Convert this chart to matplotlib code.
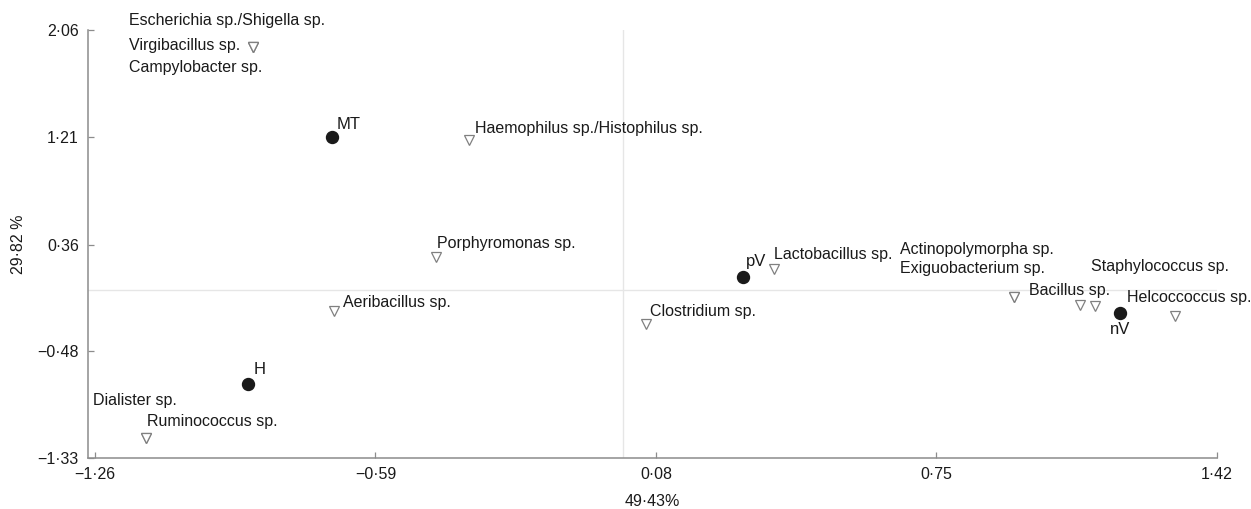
import matplotlib
matplotlib.use("Agg")
import matplotlib.pyplot as plt
from matplotlib.ticker import FixedLocator, FixedFormatter

plt.rcParams['font.family'] = ['Liberation Sans', 'DejaVu Sans']

# Sample scores (ordination axes 1 and 2)
sample_names = ["MT", "pV", "nV", "H"]
sample_x = [-0.695, 0.287, 1.188, -0.895]
sample_y = [1.21, 0.103, -0.183, -0.745]

# Genus scores
taxa_names = [
    "Escherichia sp./Shigella sp.", "Virgibacillus sp.", "Campylobacter sp.",
    "Haemophilus sp./Histophilus sp.", "Porphyromonas sp.", "Aeribacillus sp.",
    "Clostridium sp.", "Lactobacillus sp.", "Actinopolymorpha sp.",
    "Exiguobacterium sp.", "Bacillus sp.", "Staphylococcus sp.",
    "Helcoccoccus sp.", "Dialister sp.", "Ruminococcus sp.",
]
taxa_x = [-0.883, -0.883, -0.883, -0.366, -0.445, -0.690, 0.056, 0.363,
          0.935, 0.935, 1.092, 1.128, 1.319, -1.138, -1.138]
taxa_y = [1.925, 1.925, 1.925, 1.188, 0.261, -0.167, -0.270, 0.166,
          -0.056, -0.056, -0.119, -0.127, -0.206, -1.173, -1.173]

x_ticks = [-1.26, -0.59, 0.08, 0.75, 1.42]
y_ticks = [-1.33, -0.48, 0.36, 1.21, 2.06]
x_title = "49·43%"
y_title = "29·82 %"

# label placement (offset in pixels from the marker, horizontal alignment)
sample_offsets = [(5, 13, "left"), (3, 16, "left"), (0, -16, "center"), (6, 15, "left")]
taxa_offsets = [
    (-124, 27, "left"), (-124, 2, "left"), (-124, -20, "left"),
    (6, 12, "left"), (1, 14, "left"), (9, 9, "left"),
    (4, 13, "left"), (0, 15, "left"), (-114, 48, "left"),
    (-114, 29, "left"), (-51, 15, "left"), (-4, 40, "left"),
    (-48, 19, "left"), (-53, 38, "left"), (1, 17, "left"),
]


def fmt(v):
    s = f"{abs(v):.2f}".replace(".", "·")
    return ("\u2212" + s) if v < 0 else s


W, H = 1251, 509
fig = plt.figure(figsize=(W / 100, H / 100), dpi=100)
ax = fig.add_axes([88 / W, 51 / H, (1217 - 88) / W, (458 - 30) / H])

ax.set_xlim(-1.2767, 1.42)
ax.set_ylim(-1.33, 2.06)

ax.axhline(0, color="#e6e6e6", lw=1.0, zorder=0)
ax.axvline(0, color="#e6e6e6", lw=1.0, zorder=0)

ax.plot(taxa_x, taxa_y, linestyle="none", marker="v", ms=7.2,
        mfc="white", mec="#808080", mew=0.9, zorder=3, clip_on=False)
ax.plot(sample_x, sample_y, linestyle="none", marker="o", ms=8.6,
        mfc="#1a1a1a", mec="#1a1a1a", zorder=4, clip_on=False)

fs = 11.5
for name, x, y, (dx, dy, ha) in zip(taxa_names, taxa_x, taxa_y, taxa_offsets):
    ax.annotate(name, (x, y), xytext=(dx, dy), textcoords="offset pixels",
                ha=ha, va="center", fontsize=fs, color="#1a1a1a",
                annotation_clip=False)
for name, x, y, (dx, dy, ha) in zip(sample_names, sample_x, sample_y, sample_offsets):
    ax.annotate(name, (x, y), xytext=(dx, dy), textcoords="offset pixels",
                ha=ha, va="center", fontsize=fs + 0.5, color="#1a1a1a",
                annotation_clip=False)

for side in ("top", "right"):
    ax.spines[side].set_visible(False)
for side in ("left", "bottom"):
    ax.spines[side].set_color("#8c8c8c")
    ax.spines[side].set_linewidth(1.1)

ax.xaxis.set_major_locator(FixedLocator(x_ticks))
ax.xaxis.set_major_formatter(FixedFormatter([fmt(v) for v in x_ticks]))
ax.yaxis.set_major_locator(FixedLocator(y_ticks))
ax.yaxis.set_major_formatter(FixedFormatter([fmt(v) for v in y_ticks]))
ax.tick_params(direction="in", length=4, width=0.9, color="#8c8c8c",
               labelsize=fs, labelcolor="#1a1a1a", pad=6.5)

ax.set_xlabel(x_title, fontsize=fs, color="#1a1a1a")
ax.set_ylabel(y_title, fontsize=fs, color="#1a1a1a")
ax.xaxis.set_label_coords(0.5, -(494 - 458) / 428)
ax.yaxis.set_label_coords(-(88 - 26) / 1129, 0.5)

fig.savefig("out.png", dpi=100)
